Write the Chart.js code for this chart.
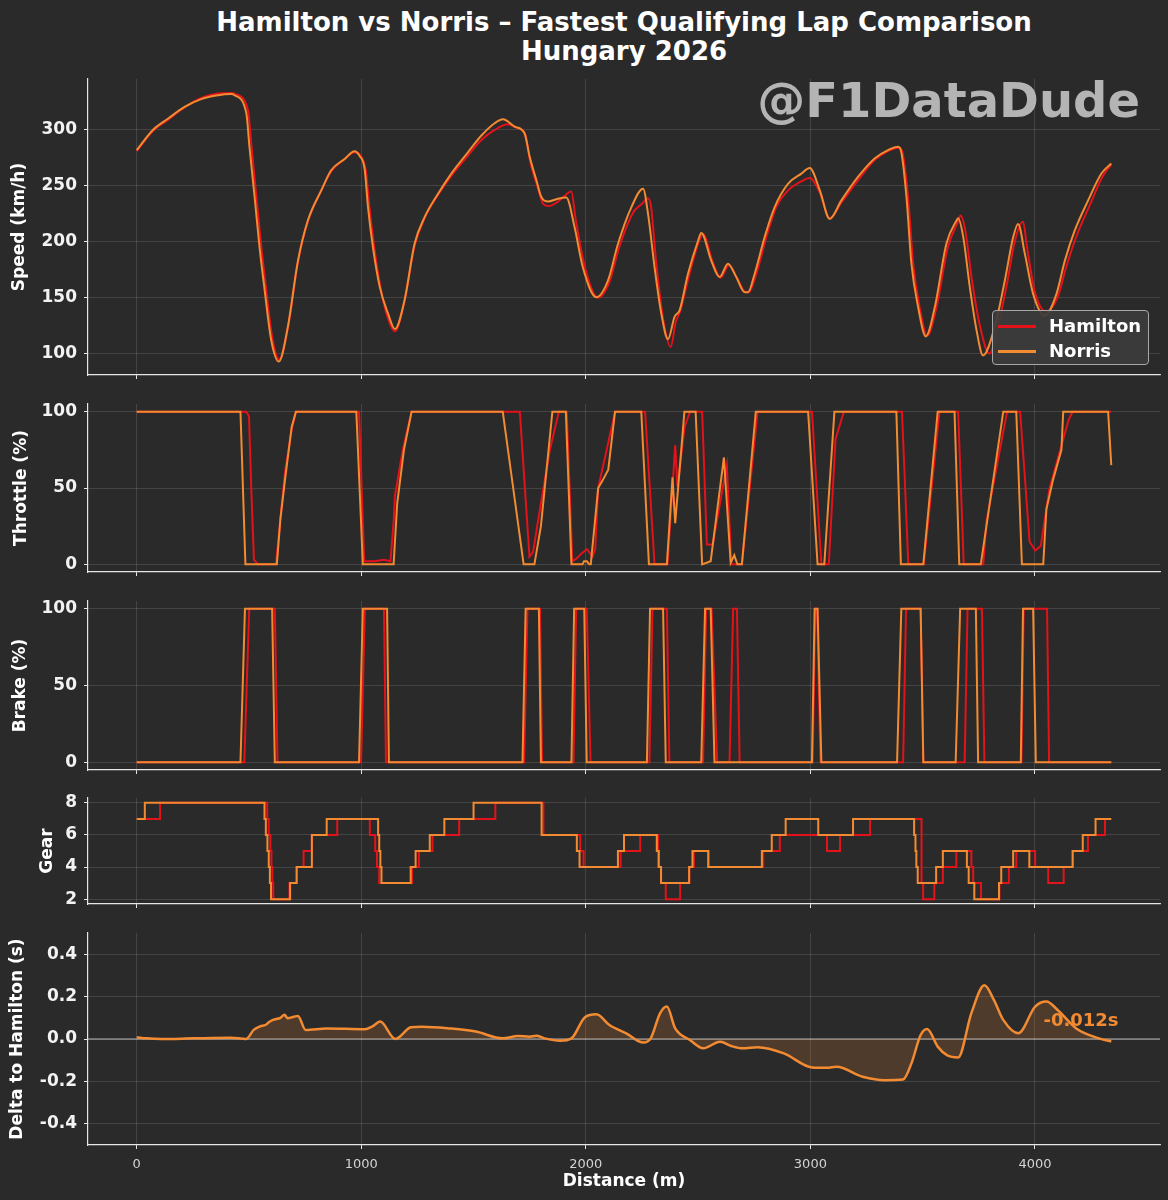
<!DOCTYPE html>
<html><head><meta charset="utf-8">
<script src="https://cdn.jsdelivr.net/npm/chart.js@4.4.1/dist/chart.umd.min.js"></script>
<style>
html,body{margin:0;padding:0;background:#2a2a2a;}
#wrap{position:relative;width:1168px;height:1200px;overflow:hidden;background:#2a2a2a;font-family:'DejaVu Sans',sans-serif;}
canvas{position:absolute;left:0;}
#title{position:absolute;left:88px;width:1072px;top:8px;text-align:center;color:#fff;font-weight:bold;font-size:26px;line-height:28.5px;}
#wm{position:absolute;right:28px;top:76px;color:#b4b4b4;font-weight:bold;font-size:48px;line-height:48px;white-space:nowrap;}
#legend{position:absolute;left:992px;top:310px;width:157px;height:55px;box-sizing:border-box;background:rgba(60,60,60,0.92);border:1px solid #a8a8a8;border-radius:4px;}
.lrow{position:absolute;left:0;height:24px;width:157px;}
.lline{position:absolute;left:5px;width:38px;height:2.5px;top:11px;}
.ltxt{position:absolute;left:56px;top:0;color:#fff;font-weight:bold;font-size:18px;line-height:24px;}
</style></head><body>
<div id="wrap">
<div id="title">Hamilton vs Norris – Fastest Qualifying Lap Comparison<br>Hungary 2026</div>
<canvas id="c1"></canvas>
<canvas id="c2"></canvas>
<canvas id="c3"></canvas>
<canvas id="c4"></canvas>
<canvas id="c5"></canvas>
<div id="wm">@F1DataDude</div>
<div id="legend"></div>
</div>
<script>
// ---------------- DATA ----------------
const DRIVERS = ['Hamilton', 'Norris'];
const X_TICKS = [0, 1000, 2000, 3000, 4000];
const SPEED_TICKS = [100, 150, 200, 250, 300];
const PCT_TICKS = [0, 50, 100];
const GEAR_TICKS = [2, 4, 6, 8];
const DELTA_TICKS = [-0.4, -0.2, 0, 0.2, 0.4];
const LAP_LENGTH = 4340;

// [distance m, speed km/h]
const hamSpeed = [[0,281],[72,299],[139,309],[213,320],[287,328.5],[362,332.5],[421,333],[440,332],[495,318],[510,288],[533,240],[555,195],[575,160],[603,115],[635,95],[673,123],[718,182],[762,218],[822,246],[866,263],[926,274],[970,280],[997,277],[1020,264],[1037,230],[1058,195],[1085,160],[1115,134],[1150,120],[1190,145],[1237,196],[1282,221],[1342,242],[1401,259],[1475,277],[1535,291],[1594,300],[1653,305],[1690,302],[1730,296],[1752,272],[1785,249],[1810,234],[1835,232],[1876,236],[1900,240],[1935,245],[1955,220],[1995,178],[2055,150],[2105,164],[2150,196],[2210,226],[2250,234],[2277,239],[2290,232],[2315,178],[2345,130],[2378,106],[2400,128],[2420,138],[2460,170],[2505,201],[2522,207],[2565,182],[2600,168],[2637,179],[2675,167],[2712,155],[2727,155],[2760,172],[2805,205],[2850,232],[2901,246],[2960,254],[2997,257],[3042,244],[3086,221],[3138,235],[3212,255],[3286,273],[3346,281],[3395,284],[3410,280],[3435,240],[3458,180],[3488,140],[3520,116],[3560,140],[3612,195],[3655,217],[3669,223.5],[3690,210],[3720,165],[3755,125],[3797,100],[3830,120],[3875,162],[3910,200],[3947,218],[3965,195],[4000,155],[4050,138],[4100,150],[4140,178],[4185,205],[4245,233],[4300,258],[4340,269]];
const norSpeed = [[0,282],[72,300],[139,310],[213,320.5],[287,327.5],[362,331],[421,332],[436,331],[488,315],[502,285],[525,240],[547,195],[569,158],[599,112],[633,93],[673,124],[718,183],[762,219],[822,246],[866,264],[926,274],[970,281],[992,277],[1015,265],[1030,231],[1052,195],[1082,160],[1119,136],[1150,122],[1193,148],[1237,198],[1282,222],[1342,243],[1401,261],[1475,280],[1535,295],[1594,306],[1631,309.5],[1683,303],[1727,297],[1750,276],[1780,255],[1802,240],[1832,236],[1876,238.5],[1913,239.5],[1950,213],[1987,177],[2047,150.5],[2099,165.5],[2143,198],[2203,231],[2255,247.5],[2277,225],[2306,177.5],[2336,136],[2366,113],[2395,133],[2418,139],[2455,171.5],[2500,201],[2514,208],[2559,183],[2596,168.5],[2633,180.5],[2670,168.5],[2707,155],[2722,155],[2752,171.5],[2796,204],[2841,231],[2901,252],[2960,261],[2997,266],[3042,246],[3086,220.5],[3138,237],[3212,258],[3286,274.5],[3346,282],[3391,285],[3405,280],[3428,240],[3450,180.5],[3480,141.5],[3514,115.5],[3554,141.5],[3606,198.5],[3651,219],[3658,221],[3681,204],[3710,159.5],[3740,121],[3769,98.5],[3821,124],[3866,165.5],[3903,204],[3925,216],[3955,189.5],[3992,153.5],[4044,134],[4096,153.5],[4133,183],[4177,210],[4237,237],[4296,261],[4340,270]];

// [distance m, throttle %]
const hamThrottle = [[0,100],[488,100],[500,97],[510,50],[522,3],[540,0],[620,0],[640,30],[660,60],[690,88],[709,100],[990,100],[1013,2],[1060,2],[1100,3],[1130,2],[1145,30],[1150,45],[1185,75],[1224,100],[1706,100],[1749,5],[1765,8],[1800,40],[1840,75],[1880,100],[1915,100],[1940,2],[1960,4],[1980,7],[2005,10],[2030,5],[2042,10],[2055,50],[2114,89],[2130,100],[2264,100],[2306,0],[2364,0],[2398,78],[2408,51],[2440,90],[2464,100],[2518,100],[2539,13],[2565,13],[2628,65],[2648,0],[2695,0],[2765,100],[3007,100],[3049,0],[3082,0],[3112,82],[3149,100],[3408,100],[3436,0],[3505,0],[3575,100],[3658,100],[3683,0],[3770,0],[3784,28],[3876,100],[3934,100],[3976,15],[4001,9],[4026,12],[4064,49],[4109,73],[4151,95],[4168,100],[4340,100]];
const norThrottle = [[0,100],[462,100],[484,0],[624,0],[640,30],[660,55],[690,90],[709,100],[978,100],[1007,0],[1144,0],[1160,40],[1190,75],[1224,100],[1630,100],[1723,0],[1771,0],[1800,25],[1851,100],[1911,100],[1936,0],[1985,0],[1992,2],[2005,2],[2015,0],[2022,0],[2055,50],[2075,55],[2100,62],[2130,100],[2247,100],[2281,0],[2361,0],[2386,57],[2398,27],[2439,100],[2489,100],[2518,0],[2556,2],[2615,70],[2645,1],[2661,6],[2675,0],[2695,0],[2757,100],[2990,100],[3032,0],[3062,0],[3107,100],[3383,100],[3403,0],[3503,0],[3567,100],[3642,100],[3663,0],[3759,0],[3859,100],[3917,100],[3942,0],[4037,0],[4051,36],[4080,55],[4118,75],[4126,100],[4326,100],[4340,65]];

// [distance m, brake %]
const hamBrake = [[0,0],[479,0],[501,100],[615,100],[627,0],[999,0],[1016,100],[1101,100],[1110,0],[1725,0],[1740,100],[1796,100],[1805,0],[1945,0],[1957,100],[2004,100],[2021,0],[2283,0],[2297,100],[2361,100],[2372,0],[2522,0],[2536,100],[2560,100],[2585,0],[2640,0],[2656,100],[2673,100],[2685,0],[3010,0],[3022,100],[3030,100],[3045,0],[3413,0],[3426,100],[3491,100],[3503,0],[3687,0],[3700,100],[3764,100],[3775,0],[3940,0],[3950,100],[4054,100],[4063,0],[4340,0]];
const norBrake = [[0,0],[462,0],[482,100],[603,100],[615,0],[990,0],[1007,100],[1115,100],[1123,0],[1718,0],[1732,100],[1791,100],[1800,0],[1936,0],[1948,100],[1993,100],[2004,0],[2272,0],[2286,100],[2344,100],[2356,0],[2514,0],[2531,100],[2556,100],[2573,0],[3007,0],[3019,100],[3032,100],[3049,0],[3386,0],[3405,100],[3491,100],[3503,0],[3647,0],[3667,100],[3737,100],[3747,0],[3937,0],[3947,100],[3992,100],[4004,0],[4340,0]];

// [distance m where gear starts, gear]
const hamGear = [[0,7],[104,8],[581,7],[588,6],[595,5],[600,4],[604,3],[608,2],[680,3],[713,4],[743,5],[780,6],[893,7],[1038,6],[1062,5],[1070,4],[1080,3],[1226,4],[1257,5],[1317,6],[1436,7],[1597,8],[1811,6],[1975,5],[1990,4],[2155,5],[2242,6],[2322,4],[2335,3],[2356,2],[2420,3],[2461,4],[2481,5],[2548,4],[2790,5],[2864,6],[3074,5],[3132,6],[3266,7],[3495,3],[3502,2],[3552,3],[3590,4],[3650,5],[3717,4],[3725,3],[3760,2],[3842,3],[3884,4],[3917,5],[4001,4],[4059,3],[4128,4],[4168,5],[4236,6],[4312,7],[4340,7]];
const norGear = [[0,7],[36,8],[569,7],[575,6],[582,5],[588,4],[593,3],[598,2],[683,3],[712,4],[780,6],[846,7],[1075,6],[1080,5],[1085,4],[1090,3],[1220,4],[1242,5],[1305,6],[1370,7],[1500,8],[1803,6],[1960,5],[1972,4],[2143,5],[2170,6],[2316,5],[2325,4],[2335,3],[2460,4],[2475,5],[2545,4],[2784,5],[2828,6],[2890,7],[3035,6],[3190,7],[3462,6],[3468,5],[3472,4],[3478,3],[3560,4],[3590,5],[3697,4],[3705,3],[3730,2],[3840,3],[3850,4],[3903,5],[3975,4],[4168,5],[4213,6],[4270,7],[4340,7]];

// [distance m, Norris delta to Hamilton s]
const norDelta = [[0,0.008],[44,0.003],[112,0],[250,0.003],[419,0.006],[487,0],[521,0.043],[550,0.06],[573,0.066],[590,0.08],[607,0.09],[640,0.1],[658,0.114],[672,0.098],[700,0.105],[718,0.109],[752,0.043],[846,0.05],[1016,0.046],[1050,0.06],[1084,0.082],[1152,0],[1221,0.055],[1271,0.058],[1391,0.05],[1510,0.035],[1630,0.003],[1698,0.014],[1749,0.011],[1780,0.015],[1817,0.003],[1885,-0.008],[1936,0.003],[1996,0.103],[2047,0.117],[2105,0.066],[2180,0.027],[2256,-0.017],[2289,0.003],[2331,0.122],[2361,0.153],[2398,0.05],[2464,-0.005],[2523,-0.044],[2598,-0.013],[2648,-0.033],[2698,-0.044],[2765,-0.039],[2882,-0.068],[3007,-0.134],[3074,-0.136],[3116,-0.131],[3233,-0.178],[3333,-0.194],[3413,-0.191],[3450,-0.115],[3491,0.019],[3520,0.047],[3567,-0.036],[3608,-0.076],[3658,-0.087],[3717,0.122],[3775,0.253],[3817,0.185],[3859,0.09],[3926,0.027],[4001,0.153],[4051,0.177],[4101,0.137],[4184,0.05],[4285,0.003],[4340,-0.012]];
const DELTA_LABEL_POS = [4038, 0.082];

// ---------------- STYLE ----------------
const FONT = 'DejaVu Sans';
const COLORS = {Hamilton: '#e3121b', Norris: '#f38b32'};
const ORDER = {Hamilton: 1, Norris: 0};
const GRID = 'rgba(255,255,255,0.16)';
const SPINE = '#e6e6e6';
const X_MIN = -0.05 * LAP_LENGTH, X_MAX = LAP_LENGTH * 1.05;
Chart.defaults.font.family = FONT;

const pts = arr => arr.map(p => ({x: p[0], y: p[1]}));
function lineDs(label, arr, extra) {
  return Object.assign({label, data: pts(arr), borderColor: COLORS[label], borderWidth: 2, pointRadius: 0, fill: false, tension: 0, order: ORDER[label]}, extra || {});
}

function makeChart(p) {
  const cv = document.getElementById(p.id);
  const PAD_T = 20;
  const xH = p.last ? 1200 - p.bottom : 8;
  const padB = p.last ? 0 : 6;
  const H = PAD_T + (p.bottom - p.top) + xH + padB;
  cv.width = 1168; cv.height = H;
  cv.style.width = '1168px'; cv.style.height = H + 'px';
  cv.style.top = (p.top - PAD_T) + 'px';
  return new Chart(cv, {
    type: 'line',
    data: {datasets: p.datasets},
    options: {
      responsive: false, animation: false, devicePixelRatio: 1,
      layout: {padding: {top: PAD_T, bottom: padB, left: 0, right: 8}},
      plugins: {legend: {display: false}, tooltip: {enabled: false}},
      elements: {point: {radius: 0}},
      scales: {
        x: {
          type: 'linear', min: X_MIN, max: X_MAX,
          afterBuildTicks: s => { s.ticks = X_TICKS.map(v => ({value: v})); },
          afterFit: s => { s.height = xH; s.paddingLeft = 0; s.paddingRight = 0; },
          grid: {color: GRID, lineWidth: 0.8, tickLength: 4, tickColor: SPINE, tickWidth: 1},
          border: {color: SPINE, width: 1.2},
          ticks: {display: !!p.last, color: '#d4d4d4', font: {family: FONT, size: 13}, padding: 8, maxRotation: 0, callback: v => String(v)},
          title: {display: !!p.last, text: 'Distance (m)', color: '#fff', font: {family: FONT, size: 17, weight: 'bold'}, padding: {top: 0, bottom: 8}}
        },
        y: {
          min: p.min, max: p.max,
          afterBuildTicks: s => { s.ticks = p.ticks.map(v => ({value: v})); },
          afterFit: s => { s.width = 88; s.paddingTop = 0; s.paddingBottom = 0; },
          grid: {color: GRID, lineWidth: 0.8, tickLength: 4, tickColor: SPINE, tickWidth: 1},
          border: {color: SPINE, width: 1.2},
          ticks: {color: '#f2f2f2', font: {family: FONT, size: 17, weight: 'bold'}, padding: 7, callback: p.fmt || (v => String(v))},
          title: {display: true, text: p.title, color: '#fff', font: {family: FONT, size: 17, weight: 'bold'}, padding: {top: p.tpad, bottom: 0}}
        }
      }
    },
    plugins: p.plugins || []
  });
}

const zeroLine = {
  id: 'zeroLine',
  beforeDatasetsDraw(chart) {
    const {ctx, chartArea: a, scales: {y}} = chart;
    const py = y.getPixelForValue(0);
    ctx.save(); ctx.strokeStyle = 'rgba(255,255,255,0.65)'; ctx.lineWidth = 1.2;
    ctx.beginPath(); ctx.moveTo(a.left, py); ctx.lineTo(a.right, py); ctx.stroke(); ctx.restore();
  }
};
const deltaLabel = {
  id: 'deltaLabel',
  afterDatasetsDraw(chart) {
    const {ctx, scales: {x, y}} = chart;
    const last = norDelta[norDelta.length - 1][1];
    ctx.save();
    ctx.fillStyle = COLORS.Norris; ctx.font = 'bold 18px ' + FONT;
    ctx.textAlign = 'left'; ctx.textBaseline = 'middle';
    ctx.fillText(last.toFixed(3) + 's', x.getPixelForValue(DELTA_LABEL_POS[0]), y.getPixelForValue(DELTA_LABEL_POS[1]));
    ctx.restore();
  }
};

makeChart({id: 'c1', top: 79, bottom: 375, min: 81, max: 345.5, ticks: SPEED_TICKS, title: 'Speed (km/h)', tpad: 9,
  datasets: [lineDs('Hamilton', hamSpeed, {cubicInterpolationMode: 'monotone'}), lineDs('Norris', norSpeed, {cubicInterpolationMode: 'monotone'})]});
makeChart({id: 'c2', top: 404, bottom: 572, min: -5, max: 105, ticks: PCT_TICKS, title: 'Throttle (%)', tpad: 11,
  datasets: [lineDs('Hamilton', hamThrottle), lineDs('Norris', norThrottle)]});
makeChart({id: 'c3', top: 601, bottom: 770, min: -5, max: 105, ticks: PCT_TICKS, title: 'Brake (%)', tpad: 10,
  datasets: [lineDs('Hamilton', hamBrake), lineDs('Norris', norBrake)]});
makeChart({id: 'c4', top: 798, bottom: 904, min: 1.7, max: 8.3, ticks: GEAR_TICKS, title: 'Gear', tpad: 37,
  datasets: [lineDs('Hamilton', hamGear, {stepped: true}), lineDs('Norris', norGear, {stepped: true})]});
makeChart({id: 'c5', top: 933, bottom: 1145, last: true, min: -0.5, max: 0.5, ticks: DELTA_TICKS, title: 'Delta to Hamilton (s)', tpad: 7,
  fmt: v => Number(v).toFixed(1), plugins: [zeroLine, deltaLabel],
  datasets: [lineDs('Norris', norDelta, {borderWidth: 2.5, cubicInterpolationMode: 'monotone', fill: 'origin', backgroundColor: 'rgba(243,139,50,0.18)'})]});

// legend
const leg = document.getElementById('legend');
DRIVERS.forEach((d, i) => {
  const row = document.createElement('div');
  row.className = 'lrow'; row.style.top = (3 + i * 25) + 'px';
  row.innerHTML = '<div class="lline" style="background:' + COLORS[d] + '"></div><div class="ltxt">' + d + '</div>';
  leg.appendChild(row);
});
</script>
</body></html>
